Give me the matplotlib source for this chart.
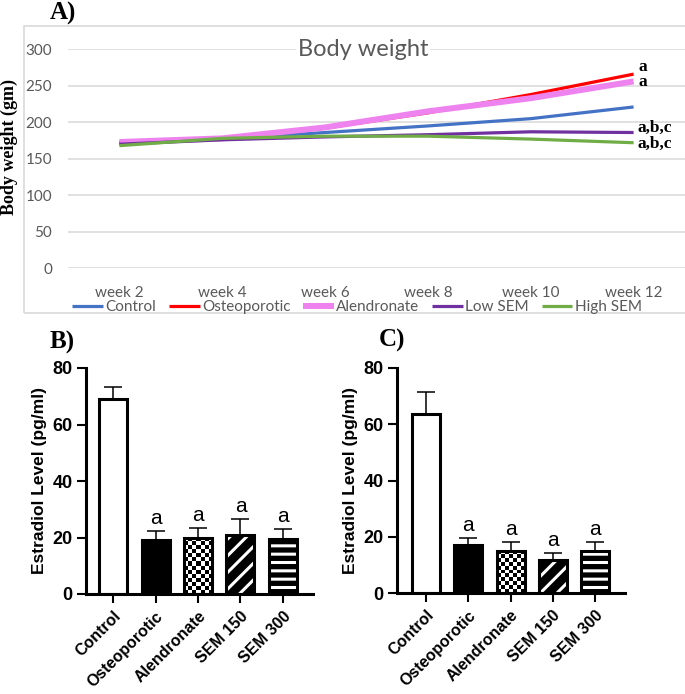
import numpy as np
import matplotlib
matplotlib.use('Agg')
import matplotlib.pyplot as plt
from matplotlib.patches import Rectangle
import matplotlib.transforms as mtransforms

# ---------------- data ----------------
weeks = ['week 2', 'week 4', 'week 6', 'week 8', 'week 10', 'week 12']
bw_control = [171, 177, 186, 195, 205, 221]
bw_osteo = [172, 177, 192, 213, 238, 266]
bw_alend = [173, 178, 193, 215, 233, 256]
bw_low = [170, 176, 180, 183, 187, 186]
bw_high = [168, 178, 181, 181, 177, 172]
series_names = ['Control', 'Osteoporotic', 'Alendronate', 'Low SEM', 'High SEM']
end_labels = ['', 'a', 'a', 'a,b,c', 'a,b,c']

groups = ['Control', 'Osteoporotic', 'Alendronate', 'SEM 150', 'SEM 300']
b_mean = [69.0, 19.0, 20.0, 20.8, 19.5]
b_err = [4.2, 3.4, 3.4, 5.7, 3.6]
c_mean = [63.8, 17.1, 15.0, 11.9, 15.0]
c_err = [7.7, 2.6, 3.1, 2.2, 3.1]
bar_letters = ['', 'a', 'a', 'a', 'a']

# ---------------- style ----------------
plt.rcParams['font.family'] = ['Liberation Sans', 'DejaVu Sans']
plt.rcParams['hatch.linewidth'] = 2.2

W, H = 685, 694
fig = plt.figure(figsize=(W / 100, H / 100), dpi=100)


def fx(px):
    return px / W


def fy(py):
    return 1 - py / H


GRAY = '#595959'
XL = 'Lato'

# ---------------- panel A ----------------
fig.add_artist(Rectangle((fx(24), fy(313)), 1.0, fy(26) - fy(313),
                         transform=fig.transFigure, fill=False,
                         edgecolor='#D9D9D9', lw=1.2))
axA = fig.add_axes([fx(68), fy(268.3), 1 - fx(68), fy(49.3) - fy(268.3)])
axA.set_xlim(-0.5, 5.5)
axA.set_ylim(0, 300)
axA.set_yticks(np.arange(0, 301, 50))
axA.set_xticks(np.arange(len(weeks)))
axA.set_xticklabels(weeks)
for s in axA.spines.values():
    s.set_visible(False)
axA.grid(axis='y', color='#D9D9D9', lw=1.1)
axA.set_axisbelow(True)
axA.tick_params(length=0, colors=GRAY, labelsize=11, pad=11.5)
axA.tick_params(axis='x', pad=12.5)
for lab in axA.get_xticklabels() + axA.get_yticklabels():
    lab.set_family(XL)

colorsA = ['#4472C4', '#FF0000', '#EE82EE', '#7030A0', '#70AD47']
lwsA = [2.3, 2.3, 4.3, 2.3, 2.3]
dataA = [bw_control, bw_osteo, bw_alend, bw_low, bw_high]
xs = np.arange(len(weeks))
handles = []
for d, c, lw, name in zip(dataA, colorsA, lwsA, series_names):
    ln, = axA.plot(xs, d, color=c, lw=lw, solid_capstyle='butt', label=name)
    handles.append(ln)

label_offsets = [(0, 0), (5, 7), (5, -1), (4, 5), (4, -1)]
for d, lab, off in zip(dataA, end_labels, label_offsets):
    if lab:
        axA.annotate(lab, xy=(xs[-1], d[-1]), xytext=off,
                     textcoords='offset pixels', ha='left', va='center',
                     family='Liberation Serif', fontweight='bold', fontsize=12.5,
                     color='black', annotation_clip=False)

axA.text(0.478, 1.0, 'Body weight',
         transform=axA.transAxes, ha='center', va='center', family=XL,
         fontsize=17, color=GRAY,
         bbox=dict(facecolor='white', edgecolor='none', pad=1))

fig.text(fx(9), fy(147), 'Body weight (gm)', rotation=90, ha='center',
         va='center', family='Liberation Serif', fontweight='bold', fontsize=13)

leg = fig.legend(handles, series_names, loc='center',
                 bbox_to_anchor=(fx(357), fy(307)), ncol=5, frameon=False,
                 prop={'family': XL, 'size': 11}, handlelength=2.0,
                 handletextpad=0.15, columnspacing=0.85, borderaxespad=0)
for t in leg.get_texts():
    t.set_color(GRAY)

fig.text(fx(50), fy(13), 'A)', ha='left', va='center',
         family='Liberation Serif', fontweight='bold', fontsize=18)

# ---------------- panels B and C ----------------
BAR_W = 0.66


def bar_panel(rect, means, errs, xleft):
    ax = fig.add_axes(rect)
    x = np.arange(len(groups))
    ax.set_xlim(xleft, 4.71)
    ax.set_ylim(0, 80)
    faces = ['white', 'black', 'white', 'black', 'black']
    hatches = [None, None, None, '//', '--']
    fbars = ax.bar(x, means, BAR_W, color=faces, lw=0, zorder=2)
    for b, hch in zip(fbars, hatches):
        if hch:
            b.set_hatch(hch)
            b.set_edgecolor('white')
            b.set_linewidth(0)
    # checkerboard texture for Alendronate
    b = fbars[2]
    x0, w, h = b.get_x(), b.get_width(), b.get_height()
    p0 = ax.transData.transform((x0, 0))
    p1 = ax.transData.transform((x0 + w, h))
    wpx, hpx = p1 - p0
    ncol = 7
    nrow = max(1, int(round(hpx / (wpx / ncol))))
    pat = np.add.outer(np.arange(nrow), np.arange(ncol)) % 2
    ax.imshow(pat, cmap='gray', vmin=0, vmax=1, extent=(x0, x0 + w, 0, h),
              origin='lower', aspect='auto', interpolation='nearest',
              zorder=2.5)
    ax.set_xlim(xleft, 4.71)
    ax.set_ylim(0, 80)
    ax.bar(x, means, BAR_W, facecolor='none', edgecolor='black', lw=2.2,
           zorder=4)
    ax.errorbar(x, means, yerr=[np.zeros(len(errs)), errs], fmt='none',
                ecolor='black', elinewidth=1.1, capsize=6.5, capthick=1.1,
                zorder=1.5)
    for xi, m, e, lab in zip(x, means, errs, bar_letters):
        if lab:
            ax.annotate(lab, xy=(xi, m + e), xytext=(0, 5),
                        textcoords='offset points', ha='center',
                        va='baseline', fontsize=15)
    for s in ['top', 'right']:
        ax.spines[s].set_visible(False)
    for s in ['left', 'bottom']:
        ax.spines[s].set_linewidth(2.2)
    ax.set_yticks([0, 20, 40, 60, 80])
    ax.set_xticks(x)
    ax.tick_params(direction='out', length=6.5, width=1.5, labelsize=13)
    offset = mtransforms.ScaledTranslation(4 / 100, 0, fig.dpi_scale_trans)
    ax.set_xticklabels(groups, rotation=45, ha='right', va='top',
                       rotation_mode='anchor', fontweight='bold', fontsize=11.5)
    for lab in ax.get_xticklabels():
        lab.set_transform(lab.get_transform() + offset)
    for lab in ax.get_yticklabels():
        lab.set_fontweight('bold')
    ax.tick_params(axis='x', pad=4)
    ax.tick_params(axis='y', pad=3)
    ax.set_ylabel('Estradiol Level (pg/ml)', fontweight='bold', fontsize=12.5,
                  labelpad=4)
    return ax


axB = bar_panel([fx(86), fy(594), fx(313) - fx(86), fy(368) - fy(594)],
                b_mean, b_err, -0.64)
axC = bar_panel([fx(397), fy(593), fx(625) - fx(397), fy(368) - fy(593)],
                c_mean, c_err, -0.69)

fig.text(fx(50), fy(342), 'B)', ha='left', va='center',
         family='Liberation Serif', fontweight='bold', fontsize=18)
fig.text(fx(379), fy(340), 'C)', ha='left', va='center',
         family='Liberation Serif', fontweight='bold', fontsize=18)

fig.savefig('out.png', dpi=100, facecolor='white')
